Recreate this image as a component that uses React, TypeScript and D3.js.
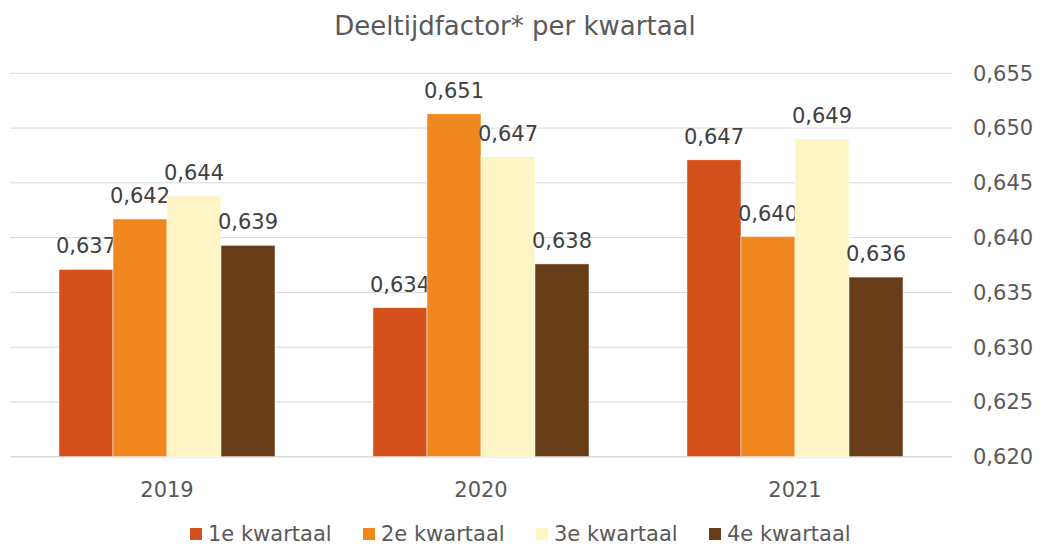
import React from "react";
import * as d3 from "d3";

const years = ["2019", "2020", "2021"];
const seriesNames = ["1e kwartaal", "2e kwartaal", "3e kwartaal", "4e kwartaal"];
const seriesColors = ["#D4501A", "#F0881F", "#FDF5C5", "#663D16"];
// values per kwartaal, one array per series (2019, 2020, 2021)
const q1 = [0.6371, 0.6336, 0.6471];
const q2 = [0.6417, 0.6513, 0.6401];
const q3 = [0.6438, 0.6474, 0.649];
const q4 = [0.6393, 0.6376, 0.6364];
const yTicks = [0.62, 0.625, 0.63, 0.635, 0.64, 0.645, 0.65, 0.655];

const W = 1040;
const H = 547;
const font = "'DejaVu Sans', Verdana, sans-serif";
const fmt = (v: number) => v.toFixed(3).replace(".", ",");

export default function App() {
  React.useEffect(() => {
    document.body.style.margin = "0";
  }, []);

  const series = [q1, q2, q3, q4];
  const plotLeft = 10;
  const plotRight = 952;

  const x0 = d3.scaleBand().domain(years).range([plotLeft, plotRight]).paddingInner(0.312).paddingOuter(0.156);
  const x1 = d3.scaleBand().domain(seriesNames).range([0, x0.bandwidth()]);
  const y = d3.scaleLinear().domain([0.62, 0.655]).range([456.7, 73.3]);

  return (
    <svg width={W} height={H} style={{ display: "block", background: "#fff" }} fontFamily={font}>
      <text x={515} y={35} textAnchor="middle" fontSize={26} fill="#595959">
        Deeltijdfactor* per kwartaal
      </text>

      {/* gridlines + right axis */}
      <g>
        {yTicks.map((t) => (
          <g key={t}>
            <line x1={plotLeft} x2={plotRight} y1={y(t)} y2={y(t)} stroke="#d9d9d9" strokeWidth={t === 0.62 ? 1.5 : 1} />
            <text x={973} y={y(t)} dy="0.35em" fontSize={21} fill="#595959">
              {fmt(t)}
            </text>
          </g>
        ))}
      </g>

      {/* bars */}
      {years.map((yr, i) => (
        <g key={yr} transform={`translate(${x0(yr)},0)`}>
          {series.map((vals, s) => {
            const bx = x1(seriesNames[s]) as number;
            const top = y(vals[i]);
            return (
              <g key={s}>
                <rect
                  x={bx}
                  y={top}
                  width={x1.bandwidth()}
                  height={y(0.62) - top}
                  fill={seriesColors[s]}
                  stroke="#fff"
                  strokeWidth={0.5}
                />
                <text x={bx + x1.bandwidth() / 2} y={top - 16} textAnchor="middle" fontSize={21} fill="#404040">
                  {fmt(vals[i])}
                </text>
              </g>
            );
          })}
          <text x={x0.bandwidth() / 2} y={497} textAnchor="middle" fontSize={21} fill="#595959">
            {yr}
          </text>
        </g>
      ))}

      {/* legend */}
      <g>
        {seriesNames.map((n, s) => (
          <g key={n} transform={`translate(${190 + s * 173},0)`}>
            <rect x={0} y={528} width={12} height={12} fill={seriesColors[s]} />
            <text x={18} y={541} fontSize={21} fill="#595959">
              {n}
            </text>
          </g>
        ))}
      </g>
    </svg>
  );
}
